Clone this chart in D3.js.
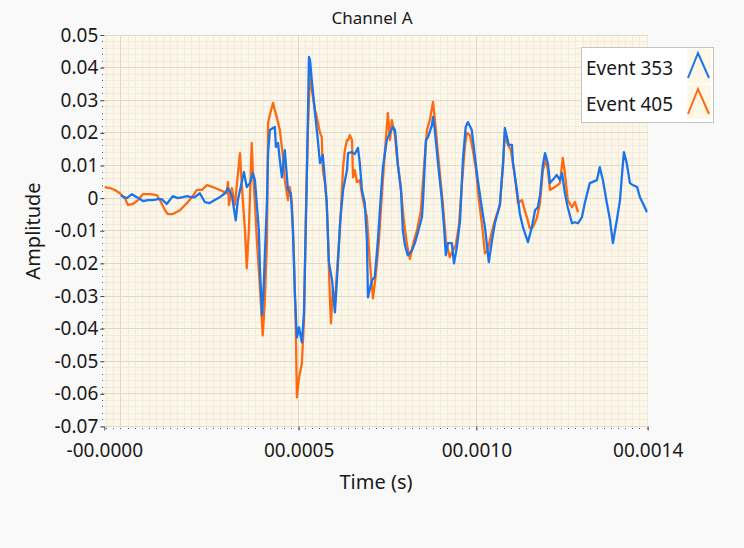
<!DOCTYPE html>
<html>
<head>
<meta charset="utf-8">
<script src="https://cdn.jsdelivr.net/npm/d3@7/dist/d3.min.js"></script>
<style>
  html, body { margin: 0; padding: 0; background: #f9f9f9; }
  svg { display: block; font-family: "Noto Sans", "Open Sans", sans-serif; }
</style>
</head>
<body>
<svg id="chart" width="744" height="548"></svg>
<script>
// Event 353 — sample times (µs) and amplitudes
const time353 = [0,8,17,31,45,62,76,90,104,115,129,146,160,174,186,197,208,222,236,250,264,278,293,301,312,323,329,340,346,354,363,371,377,383,388,391,397,402,411,414,419,428,433,436,442,447,453,461,470,478,484,489,495,501,509,515,520,526,529,532,537,546,554,560,568,574,579,585,594,602,610,616,625,636,639,650,658,667,672,678,686,692,695,706,714,723,729,737,748,757,765,771,776,779,788,793,799,807,819,827,835,847,850,858,864,875,878,883,892,903,909,914,920,931,937,945,954,962,970,976,987,996,1004,1015,1024,1035,1044,1052,1066,1075,1080,1086,1091,1100,1103,1114,1122,1131,1145,1156,1165,1173,1179,1187,1193,1201,1207,1221,1226,1235,1241,1249,1257,1269,1277,1286,1297,1305,1319,1339,1347,1356,1367,1376,1384,1395,1404,1409,1415,1423,1432,1440,1452,1460,1468,1480];
const amp353 = [0.0009,0.0003,0.0,0.0012,0.0003,-0.0009,-0.0006,-0.0006,-0.0003,-0.0003,-0.0018,0.0006,0.0,0.0003,0.0006,0.0003,0.0003,0.0015,-0.0012,-0.0015,-0.0006,0.0003,0.0015,0.0031,0.0009,-0.0068,-0.0006,0.0049,0.0080,0.0034,0.0046,0.0077,0.0055,-0.0028,-0.0098,-0.0212,-0.0359,-0.0261,-0.0006,0.0138,0.0209,0.0215,0.0218,0.0157,0.0169,0.0117,0.0064,0.0147,0.0025,0.0015,-0.0098,-0.0282,-0.0427,-0.0396,-0.0442,-0.0353,-0.0098,0.0239,0.0433,0.0424,0.0362,0.0261,0.0178,0.0107,0.0132,0.0055,-0.0015,-0.0196,-0.0252,-0.0350,-0.0212,-0.0083,0.0025,0.0086,0.0138,0.0141,0.0135,0.0154,0.0107,0.0025,-0.0015,-0.0129,-0.0304,-0.0252,-0.0243,-0.0129,-0.0028,0.0095,0.0178,0.0200,0.0218,0.0209,0.0147,0.0101,0.0025,-0.0098,-0.0144,-0.0175,-0.0160,-0.0138,-0.0107,-0.0058,-0.0006,0.0178,0.0187,0.0224,0.0249,0.0209,0.0107,-0.0006,-0.0089,-0.0175,-0.0138,-0.0138,-0.0200,-0.0150,-0.0068,0.0117,0.0218,0.0233,0.0209,0.0126,0.0055,-0.0028,-0.0089,-0.0196,-0.0129,-0.0077,-0.0021,0.0107,0.0215,0.0187,0.0163,0.0163,0.0107,0.0025,-0.0046,-0.0089,-0.0135,-0.0089,-0.0037,-0.0028,0.0009,0.0101,0.0138,0.0107,0.0046,0.0064,0.0071,0.0055,0.0077,0.0015,-0.0028,-0.0077,-0.0074,-0.0077,-0.0058,-0.0015,0.0046,0.0055,0.0095,0.0055,-0.0015,-0.0068,-0.0138,-0.0068,-0.0006,0.0064,0.0141,0.0107,0.0046,0.0040,0.0034,0.0003,-0.0015,-0.0043];

// Event 405 — sample times (µs) and amplitudes
const time405 = [-46,-31,-17,-3,11,20,34,48,62,82,101,110,124,132,146,166,186,200,214,228,242,259,278,298,301,304,312,321,326,335,338,343,349,354,360,368,371,377,383,391,399,405,411,414,419,428,433,439,447,456,461,470,475,481,487,492,495,501,509,515,520,526,532,537,546,551,560,565,568,574,579,582,588,591,596,602,608,616,625,630,636,639,644,650,653,658,664,672,681,692,700,709,717,726,734,743,751,757,762,771,776,785,796,805,813,821,833,844,852,861,869,878,886,895,906,914,925,934,942,951,959,968,973,982,990,999,1007,1016,1024,1032,1041,1052,1066,1075,1080,1089,1097,1106,1117,1128,1136,1142,1150,1159,1170,1179,1187,1196,1201,1207,1221,1235,1243,1249,1257,1269,1277,1286];
const amp405 = [0.0034,0.0031,0.0025,0.0015,0.0,-0.0021,-0.0018,-0.0006,0.0012,0.0012,0.0009,-0.0006,-0.0037,-0.0049,-0.0049,-0.0037,-0.0015,0.0003,0.0025,0.0025,0.0040,0.0034,0.0025,0.0015,0.0049,-0.0021,0.0031,-0.0021,0.0040,0.0138,0.0077,-0.0006,-0.0098,-0.0215,-0.0098,0.0169,0.0086,-0.0015,-0.0138,-0.0273,-0.0421,-0.0313,-0.0129,0.0230,0.0255,0.0292,0.0270,0.0246,0.0209,0.0126,0.0055,-0.0006,0.0034,-0.0015,-0.0190,-0.0405,-0.0611,-0.0550,-0.0507,-0.0375,-0.0068,0.0209,0.0387,0.0332,0.0270,0.0249,0.0200,0.0187,0.0086,0.0046,-0.0015,-0.0098,-0.0313,-0.0384,-0.0282,-0.0322,-0.0221,-0.0098,0.0095,0.0147,0.0178,0.0178,0.0193,0.0178,0.0064,0.0086,0.0049,0.0055,-0.0006,-0.0058,-0.0190,-0.0307,-0.0236,-0.0129,0.0009,0.0147,0.0261,0.0178,0.0239,0.0193,0.0132,0.0055,-0.0068,-0.0144,-0.0187,-0.0144,-0.0098,-0.0037,0.0086,0.0209,0.0239,0.0295,0.0209,0.0101,-0.0021,-0.0129,-0.0181,-0.0160,-0.0144,-0.0083,0.0040,0.0163,0.0200,0.0193,0.0147,0.0086,-0.0006,-0.0083,-0.0169,-0.0160,-0.0114,-0.0068,-0.0021,0.0101,0.0193,0.0163,0.0147,0.0086,-0.0015,-0.0006,-0.0037,-0.0058,-0.0092,-0.0089,-0.0061,-0.0015,0.0086,0.0117,0.0086,0.0025,0.0034,0.0046,0.0123,0.0077,-0.0006,-0.0028,-0.0012,-0.0043];

// Axis ticks and labels
const yTicks = [0.05,0.04,0.03,0.02,0.01,0,-0.01,-0.02,-0.03,-0.04,-0.05,-0.06,-0.07];
const yTickLabels = ["0.05","0.04","0.03","0.02","0.01","0","-0.01","-0.02","-0.03","-0.04","-0.05","-0.06","-0.07"];
const xTicks = [-0.0000467,0.0005,0.0010,0.0014819];
const xTickLabels = ["-00.0000","00.0005","00.0010","00.0014"];
const xGridMajor = [0,0.0005,0.0010];
const seriesNames = ["Event 353","Event 405"];

const colors = { e353: "#1a74ec", e405: "#fd6a12" };

const svg = d3.select("#chart");
const W = 744, H = 548;
const plot = { left: 104.3, right: 647.7, top: 35, bottom: 426.5 };

const x = d3.scaleLinear().domain([xTicks[0], xTicks[3]]).range([plot.left, plot.right]);
const y = d3.scaleLinear().domain([-0.07, 0.05]).range([plot.bottom, plot.top]);

svg.append("rect").attr("width", W).attr("height", H).attr("fill", "#f9f9f9");

// plot background
svg.append("rect")
  .attr("x", plot.left).attr("y", plot.top)
  .attr("width", plot.right - plot.left).attr("height", plot.bottom - plot.top)
  .attr("fill", "#fef7e6");

// minor grid
const xMinor = d3.range(-40e-6, 1482e-6, 20e-6);
const yMinor = d3.range(-0.07, 0.0501, 0.002);
const grid = svg.append("g");
grid.selectAll("line.xm").data(xMinor).enter().append("line")
  .attr("x1", d => x(d)).attr("x2", d => x(d))
  .attr("y1", plot.top).attr("y2", plot.bottom)
  .attr("stroke", "#eeebe6").attr("stroke-width", 1).attr("shape-rendering", "crispEdges");
grid.selectAll("line.ym").data(yMinor).enter().append("line")
  .attr("y1", d => y(d)).attr("y2", d => y(d))
  .attr("x1", plot.left).attr("x2", plot.right)
  .attr("stroke", "#eeebe6").attr("stroke-width", 1).attr("shape-rendering", "crispEdges");
// major grid
grid.selectAll("line.xM").data(xGridMajor).enter().append("line")
  .attr("x1", d => x(d)).attr("x2", d => x(d))
  .attr("y1", plot.top).attr("y2", plot.bottom)
  .attr("stroke", "#dcd9d3").attr("stroke-width", 1).attr("shape-rendering", "crispEdges");
grid.selectAll("line.yM").data(yTicks).enter().append("line")
  .attr("y1", d => y(d)).attr("y2", d => y(d))
  .attr("x1", plot.left).attr("x2", plot.right)
  .attr("stroke", "#dcd9d3").attr("stroke-width", 1).attr("shape-rendering", "crispEdges");

// y axis
const yAxis = d3.axisLeft(y).tickValues(yTicks)
  .tickFormat((d, i) => yTickLabels[i]).tickSize(4).tickPadding(2);
const gy = svg.append("g").attr("transform", `translate(${plot.left},0)`).call(yAxis);
gy.select(".domain").remove();
gy.selectAll(".tick line").attr("stroke", "#444");
gy.selectAll(".tick text").attr("font-size", 19).attr("fill", "#1a1a1a")
  .attr("font-family", "Noto Sans, sans-serif");
// y minor ticks
svg.append("g").selectAll("line").data(yMinor).enter().append("line")
  .attr("x1", plot.left - 2.5).attr("x2", plot.left - 1)
  .attr("y1", d => y(d)).attr("y2", d => y(d))
  .attr("stroke", "#555").attr("stroke-width", 1).attr("shape-rendering", "crispEdges");

// x axis
const xAxis = d3.axisBottom(x).tickValues(xTicks)
  .tickFormat((d, i) => xTickLabels[i]).tickSize(4).tickPadding(13);
const gx = svg.append("g").attr("transform", `translate(0,${plot.bottom})`).call(xAxis);
gx.select(".domain").remove();
gx.selectAll(".tick line").attr("stroke", "#444");
gx.selectAll(".tick text").attr("font-size", 19).attr("fill", "#1a1a1a")
  .attr("font-family", "Noto Sans, sans-serif");
svg.append("g").selectAll("line").data(xMinor).enter().append("line")
  .attr("x1", d => x(d)).attr("x2", d => x(d))
  .attr("y1", plot.bottom + 1).attr("y2", plot.bottom + 2.5)
  .attr("stroke", "#555").attr("stroke-width", 1).attr("shape-rendering", "crispEdges");

// titles
svg.append("text").attr("x", 372).attr("y", 24).attr("text-anchor", "middle")
  .attr("font-size", 17).attr("fill", "#1a1a1a").text("Channel A");
svg.append("text").attr("x", 376).attr("y", 489).attr("text-anchor", "middle")
  .attr("font-size", 20).attr("fill", "#1a1a1a").text("Time (s)");
svg.append("text").attr("transform", "translate(40,231) rotate(-90)")
  .attr("text-anchor", "middle").attr("font-size", 20).attr("fill", "#1a1a1a").text("Amplitude");

// series
const clip = svg.append("clipPath").attr("id", "plotclip").append("rect")
  .attr("x", plot.left).attr("y", plot.top)
  .attr("width", plot.right - plot.left).attr("height", plot.bottom - plot.top);

const line = d3.line().x(d => x(d[0] * 1e-6)).y(d => y(d[1]));
const s405 = time405.map((t, i) => [t, amp405[i]]);
const s353 = time353.map((t, i) => [t, amp353[i]]);

const lines = svg.append("g").attr("clip-path", "url(#plotclip)");
lines.append("path").datum(s405).attr("d", line)
  .attr("fill", "none").attr("stroke", colors.e405).attr("stroke-width", 2.3)
  .attr("stroke-linejoin", "round");
lines.append("path").datum(s353).attr("d", line)
  .attr("fill", "none").attr("stroke", colors.e353).attr("stroke-width", 2.3)
  .attr("stroke-linejoin", "round");

// legend
const lg = svg.append("g");
lg.append("rect").attr("x", 581.5).attr("y", 47.5).attr("width", 132).attr("height", 75)
  .attr("fill", "#ffffff").attr("stroke", "#c4c4c4").attr("stroke-width", 1);
const legendColors = [colors.e353, colors.e405];
seriesNames.forEach((name, i) => {
  const yy = 49 + i * 36;
  lg.append("text").attr("x", 586).attr("y", yy + 26).attr("font-size", 19)
    .attr("fill", "#1a1a1a").text(name);
  lg.append("rect").attr("x", 687).attr("y", yy).attr("width", 24).attr("height", 34)
    .attr("fill", "#fef7e6");
  lg.append("polyline")
    .attr("points", `688,${yy + 29} 698,${yy + 4} 709,${yy + 29}`)
    .attr("fill", "none").attr("stroke", legendColors[i]).attr("stroke-width", 2);
});
</script>
</body>
</html>
